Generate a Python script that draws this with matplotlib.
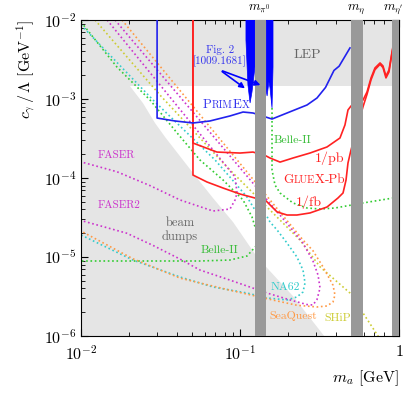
import numpy as np
import matplotlib
matplotlib.use("Agg")
import matplotlib.pyplot as plt
import matplotlib.transforms as mtransforms
from matplotlib.offsetbox import TextArea, HPacker, AnnotationBbox

plt.rcParams['font.family'] = 'serif'
plt.rcParams['font.serif'] = ['cmr10']
plt.rcParams['mathtext.fontset'] = 'cm'
plt.rcParams['axes.formatter.use_mathtext'] = True

# ---------------- data ----------------
x_ticks = [1e-2, 1e-1, 1.0]
x_ticklabels = [r'$10^{-2}$', r'$10^{-1}$', r'$1$']
y_ticks = [1e-6, 1e-5, 1e-4, 1e-3, 1e-2]
y_ticklabels = [r'$10^{-6}$', r'$10^{-5}$', r'$10^{-4}$', r'$10^{-3}$', r'$10^{-2}$']

lep_low = 1.46e-3
beamdump_m = [0.01, 0.0203, 0.0245, 0.0292, 0.0338, 0.0506, 0.0676, 0.0904, 0.128, 0.2153, 0.3424, 0.01]
beamdump_c = [1.46e-3, 1.46e-3, 8.9e-4, 4.97e-4, 3.3e-4, 1.16e-4, 5.58e-5, 2.77e-5, 1e-5, 3.2e-6, 9.7e-7, 9.7e-7]

meson_bands = [(0.124, 0.146), (0.499, 0.594), (0.904, 1.0)]
meson_labels = [r'$m_{\pi^0}$', r'$m_\eta$', r"$m_{\eta'}$"]
meson_label_pos = [0.132, 0.54, 0.915]

primex_m = [0.0301, 0.0301, 0.039, 0.0506, 0.0647, 0.0865, 0.1045, 0.1207, 0.159, 0.1976, 0.264, 0.305, 0.345, 0.39, 0.42, 0.4916]
primex_c = [1e-2, 5.74e-4, 5.27e-4, 4.97e-4, 5.27e-4, 6.1e-4, 6.84e-4, 6.65e-4, 5.58e-4, 6.65e-4, 8.4e-4, 1.03e-3, 1.4e-3, 2.3e-3, 2.6e-3, 4.43e-3]

spike1_m = [0.109, 0.1242, 0.1242, 0.119, 0.1157, 0.1122, 0.109]
spike1_c = [1e-2, 1e-2, 2.54e-3, 1.23e-3, 8.9e-4, 1.5e-3, 5.58e-3]
spike2_m = [0.146, 0.1613, 0.1613, 0.159, 0.1545, 0.152, 0.148, 0.146]
spike2_c = [1e-2, 1e-2, 2.54e-3, 7.69e-4, 1.38e-3, 1.64e-3, 1.09e-3, 1.3e-3]

gluex_pb_m = [0.0506, 0.0506, 0.0716, 0.1, 0.1207, 0.146, 0.1545, 0.1786, 0.2153, 0.2755, 0.3525, 0.4253, 0.4572, 0.4777, 0.499,
              0.594, 0.6295, 0.667, 0.706, 0.760, 0.793, 0.828, 0.865, 0.904, 0.944, 0.986]
gluex_pb_c = [1e-2, 2.77e-4, 2.13e-4, 2.07e-4, 2.13e-4, 1.9e-4, 1.79e-4, 1.59e-4, 1.79e-4, 2.07e-4, 2.47e-4, 3.21e-4, 4.69e-4, 7.26e-4, 8.15e-4,
              9.7e-4, 1.23e-3, 1.85e-3, 2.47e-3, 2.86e-3, 2.62e-3, 1.95e-3, 2.33e-3, 3.94e-3, 6.46e-3, 1e-2]
gluex_fb_m = [0.0506, 0.0506, 0.062, 0.0782, 0.1, 0.1242, 0.146, 0.171, 0.1976, 0.228, 0.2755, 0.3525, 0.413, 0.4446, 0.4644, 0.4777, 0.499,
              0.594, 0.6295, 0.667, 0.706, 0.760, 0.793, 0.828, 0.865, 0.904, 0.944, 0.986]
gluex_fb_c = [1e-2, 1.09e-4, 8.9e-5, 7.47e-5, 6.27e-5, 5.58e-5, 5.12e-5, 3.72e-5, 3.4e-5, 3.4e-5, 3.61e-5, 4.29e-5, 5.58e-5, 6.46e-5, 9.44e-5, 1.55e-4, 2.26e-4,
              8.0e-4, 1.15e-3, 1.75e-3, 2.35e-3, 2.75e-3, 2.5e-3, 1.85e-3, 2.2e-3, 3.8e-3, 6.3e-3, 1e-2]

belle_lo_m = [0.01, 0.01683, 0.0272, 0.0402, 0.056, 0.0782, 0.1045, 0.119, 0.126, 0.128, 0.1107, 0.0865, 0.056, 0.01]
belle_lo_c = [9.44e-3, 2.54e-3, 9.7e-4, 3.72e-4, 1.69e-4, 9.44e-5, 5.27e-5, 3.21e-5, 2.2e-5, 1.42e-5, 1.03e-5, 9.16e-6, 8.9e-6, 8.9e-6]
belle_hi_m = [0.159, 0.159, 0.166, 0.1786, 0.2153, 0.264, 0.3187, 0.3956, 0.594, 0.841, 1.0]
belle_hi_c = [7.69e-4, 1.26e-4, 8.15e-5, 6.46e-5, 4.83e-5, 4.17e-5, 4.05e-5, 4.17e-5, 4.83e-5, 5.42e-5, 5.74e-5]

na62_m = [0.01, 0.0284, 0.0697, 0.0931, 0.1107, 0.1242, 0.146, 0.1545, 0.171, 0.1976, 0.228, 0.249, 0.2564, 0.249, 0.228, 0.1976, 0.148, 0.1107, 0.0676, 0.042, 0.0212, 0.01]
na62_c = [8.65e-3, 9.7e-4, 1.69e-4, 8.65e-5, 5.74e-5, 3.94e-5, 3.4e-5, 2.77e-5, 2.2e-5, 1.5e-5, 1e-5, 6.84e-6, 4.69e-6, 3.61e-6, 3.12e-6, 2.86e-6, 3.03e-6, 3.5e-6, 4.17e-6, 5.58e-6, 9.16e-6, 1.9e-5]

seaquest_m = [0.0181, 0.2490, 0.2877, 0.3326, 0.3845, 0.3956, 0.3845, 0.3525, 0.305, 0.228, 0.1613, 0.0865, 0.042, 0.0212, 0.01]
seaquest_c = [1e-2, 1.64e-5, 1.2e-5, 7.5e-6, 4.4e-6, 3.3e-6, 2.7e-6, 2.4e-6, 2.33e-6, 2.45e-6, 2.85e-6, 3.8e-6, 5.4e-6, 9.5e-6, 2.13e-5]

faser_m = [0.0146, 0.0931, 0.0958, 0.0931, 0.0865, 0.0676, 0.042, 0.0272, 0.01683, 0.01]
faser_c = [1e-2, 1.03e-4, 6.46e-5, 5.27e-5, 4.05e-5, 3.82e-5, 5.27e-5, 8.0e-5, 1.2e-4, 1.6e-4]

faser2_m = [0.01637, 0.2063, 0.249, 0.2877, 0.3097, 0.3187, 0.305, 0.2877, 0.264, 0.2063, 0.148, 0.0865, 0.056, 0.042, 0.0284, 0.0194, 0.01]
faser2_c = [1e-2, 2.4e-5, 1.5e-5, 8.9e-6, 5.9e-6, 4.05e-6, 2.9e-6, 2.47e-6, 2.5e-6, 2.86e-6, 3.5e-6, 5.1e-6, 6.84e-6, 9.4e-6, 1.4e-5, 2.0e-5, 2.9e-5]

ship_m = [0.01225, 0.0314, 0.0828, 0.2383, 0.3187, 0.4916, 0.738, 0.9]
ship_c = [1e-2, 1.12e-3, 1.38e-4, 1.64e-5, 7.5e-6, 3.5e-6, 1.0e-6, 4e-7]

# ---------------- figure ----------------
fig = plt.figure(figsize=(4.07, 3.96), dpi=100)
ax = fig.add_axes([81/407, 1-336/396, 318/407, 316/396])
ax.set_xscale('log')
ax.set_yscale('log')
ax.set_xlim(1e-2, 1)
ax.set_ylim(1e-6, 1e-2)

lgrey = '#e5e5e5'
dgrey = '#999999'
ax.axhspan(lep_low, 1e-2, color=lgrey, lw=0, zorder=0)
ax.fill(beamdump_m, beamdump_c, color=lgrey, lw=0, zorder=0)

dot = dict(ls=(0, (1, 1.6)), lw=1.2, zorder=2)
ax.plot(belle_lo_m, belle_lo_c, color='#33cc33', **dot)
ax.plot(belle_hi_m, belle_hi_c, color='#33cc33', **dot)
ax.plot(na62_m, na62_c, color='#33cccc', **dot)
ax.plot(ship_m, ship_c, color='#cccc33', **dot)
ax.plot(faser_m, faser_c, color='#cc33cc', **dot)
ax.plot(faser2_m, faser2_c, color='#cc33cc', **dot)
ax.plot(seaquest_m, seaquest_c, color='#ff9944', **dot)

ax.plot(gluex_pb_m, gluex_pb_c, color='#ff2222', lw=1.2, zorder=3)
ax.plot(gluex_fb_m, gluex_fb_c, color='#ff2222', lw=1.2, zorder=3)
ax.plot(primex_m, primex_c, color='#2222ee', lw=1.2, zorder=3)
ax.fill(spike1_m, spike1_c, color='#0000ff', lw=0.5, zorder=3)
ax.fill(spike2_m, spike2_c, color='#0000ff', lw=0.5, zorder=3)

for (a, b) in meson_bands:
    ax.axvspan(a, b, color=dgrey, lw=0, zorder=4)

tr = mtransforms.blended_transform_factory(ax.transData, ax.transAxes)
for lab, xp in zip(meson_labels, meson_label_pos):
    ax.text(xp, 1.012, lab, transform=tr, ha='center', va='bottom', fontsize=9.5)

ax.set_xticks(x_ticks)
ax.set_xticklabels(x_ticklabels)
ax.set_yticks(y_ticks)
ax.set_yticklabels(y_ticklabels)
ax.tick_params(which='both', direction='in', top=True, right=True, labelsize=11.5)
ax.tick_params(which='major', length=5, width=0.8)
ax.tick_params(which='minor', length=3, width=0.6)
ax.tick_params(axis='x', pad=6)

ax.set_xlabel(r'$m_a$ [GeV]', fontsize=11.5, loc='right')
ax.set_ylabel(r'$c_\gamma\,/\,\Lambda$ [GeV$^{-1}$]', fontsize=11.5, loc='top')

fs = 8.5
ax.text(0.264, 3.6e-3, 'LEP', color='#666666', fontsize=10, ha='center', va='center', zorder=5)
ax.text(0.042, 2.2e-5, 'beam\ndumps', color='#666666', fontsize=9, ha='center', va='center', linespacing=1.05, zorder=5)
ax.text(0.0166, 1.95e-4, 'FASER', color='#cc33cc', fontsize=8, ha='center', va='center', zorder=5)
ax.text(0.0173, 4.55e-5, 'FASER2', color='#cc33cc', fontsize=8, ha='center', va='center', zorder=5)
ax.text(0.0748, 1.23e-5, 'Belle-II', color='#33bb33', fontsize=fs, ha='center', va='center', zorder=5)
ax.text(0.215, 3.03e-4, 'Belle-II', color='#33bb33', fontsize=fs, ha='center', va='center', zorder=5)
ax.text(0.368, 1.79e-4, '1/pb', color='#ff2222', fontsize=10, ha='center', va='center', zorder=5)
ax.text(0.272, 4.97e-5, '1/fb', color='#ff2222', fontsize=10, ha='center', va='center', zorder=5)
ax.text(0.192, 4.17e-6, 'NA62', color='#33cccc', fontsize=fs, ha='center', va='center', zorder=5)
ax.text(0.215, 1.79e-6, 'SeaQuest', color='#ff9944', fontsize=fs, ha='center', va='center', zorder=5)
ax.text(0.413, 1.69e-6, 'SHiP', color='#cccc33', fontsize=fs, ha='center', va='center', zorder=5)
ax.text(0.0745, 3.5e-3, 'Fig. 2\n[1009.1681]', color='#3333ee', fontsize=8, ha='center', va='center', linespacing=1.0, zorder=5)

arr = dict(arrowstyle='-|>', color='#0000ff', lw=1.2, mutation_scale=8)
ax.annotate('', xy=(0.111, 1.3e-3), xytext=(0.0748, 2.33e-3), arrowprops=arr, zorder=5)
ax.annotate('', xy=(0.1396, 1.46e-3), xytext=(0.0748, 2.33e-3), arrowprops=arr, zorder=5)


def smallcaps(parts, xy, color, big=9.5, small=7.5):
    kids = []
    for txt, is_big in parts:
        kids.append(TextArea(txt, textprops=dict(color=color, fontsize=big if is_big else small,
                                                 family='serif')))
    box = HPacker(children=kids, align='baseline', pad=0, sep=0)
    ab = AnnotationBbox(box, xy, frameon=False, box_alignment=(0.5, 0.5), zorder=5)
    ax.add_artist(ab)


smallcaps([('P', True), ('RIM', False), ('E', True), ('X', False)], (0.0817, 8.4e-4), '#3333ee')
smallcaps([('G', True), ('LUE', False), ('X', True), ('-Pb', True)], (0.292, 9.4e-5), '#ff2222')

fig.savefig('out.png', dpi=100)
